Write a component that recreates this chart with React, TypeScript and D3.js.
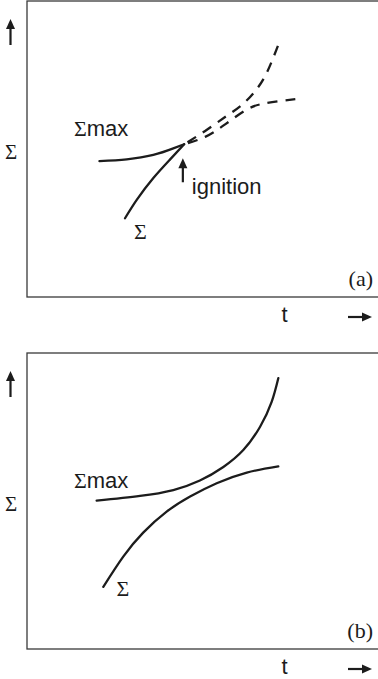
import React from 'react';
import * as d3 from 'd3';

type Pt = [number, number];

// values, arbitrary units (t: 0-100, Σ: 0-100)
// panel (a): before ignition solid, after ignition dashed
const sigmaMaxA: Pt[] = [[20.7, 45.9], [28.5, 46.5], [36.1, 48.0], [41.8, 50.2], [44.9, 51.6]];
const sigmaA: Pt[] = [[28.0, 26.6], [31.4, 32.9], [36.1, 40.2], [40.9, 46.5], [44.9, 51.6]];
const afterUpperA: Pt[] = [[44.9, 51.6], [50.9, 56.1], [56.6, 60.8], [61.4, 64.9], [65.4, 69.9], [68.6, 76.0], [72.0, 85.8]];
const afterLowerA: Pt[] = [[44.9, 51.6], [50.9, 54.1], [56.6, 58.3], [62.6, 63.2], [67.1, 65.2], [72.3, 66.2], [77.1, 66.9]];
const ignitionA: Pt = [44.9, 51.6];

// panel (b): curves never meet
const sigmaMaxB: Pt[] = [[19.9, 50.1], [32.3, 51.7], [41.8, 53.7], [49.4, 56.9], [56.1, 61.5], [61.8, 67.2], [66.6, 75.1], [69.9, 83.5], [71.8, 91.5]];
const sigmaB: Pt[] = [[21.8, 21.0], [27.5, 31.2], [33.2, 39.3], [39.9, 46.4], [46.6, 51.5], [54.2, 56.0], [62.8, 59.6], [71.8, 61.7]];

const panelTags = ['(a)', '(b)'];
const xTitle = 't';
const yTitle = 'Σ';
const ignitionText = 'ignition';

const W = 378;
const H = 679;
const boxLeft = 27;
const boxH = 296;
const ink = '#1c1c1c';
const sans = '"Liberation Sans", Arial, sans-serif';
const serif = '"Liberation Serif", "Times New Roman", serif';

const UpArrow = ({ x, tip, len }: { x: number; tip: number; len: number }) => (
  <g>
    <line x1={x} x2={x} y1={tip + 6} y2={tip + len} stroke={ink} strokeWidth={2.2} />
    <path d={`M${x},${tip} L${x - 4.5},${tip + 10} L${x + 4.5},${tip + 10} Z`} fill={ink} />
  </g>
);

const RightArrow = ({ x, y, len }: { x: number; y: number; len: number }) => (
  <g>
    <line x1={x} x2={x + len - 6} y1={y} y2={y} stroke={ink} strokeWidth={2.2} />
    <path d={`M${x + len},${y} L${x + len - 10},${y - 4.5} L${x + len - 10},${y + 4.5} Z`} fill={ink} />
  </g>
);

const Panel = ({ top, tag, solid, dashed, sigmaLabel, ignition }: {
  top: number;
  tag: string;
  solid: Pt[][];
  dashed: Pt[][];
  sigmaLabel: Pt;
  ignition?: Pt;
}) => {
  const x = d3.scaleLinear().domain([0, 100]).range([boxLeft, 377]);
  const y = d3.scaleLinear().domain([0, 100]).range([top + boxH, top]);
  const line = d3.line<Pt>()
    .x(d => x(d[0]))
    .y(d => y(d[1]))
    .curve(d3.curveNatural);

  return (
    <g>
      {/* frame runs off the right edge */}
      <rect x={boxLeft} y={top} width={W} height={boxH} fill="none" stroke="#3a3a3a" strokeWidth={1.3} />

      {solid.map((s, i) => (
        <path key={'s' + i} d={line(s) || ''} fill="none" stroke={ink} strokeWidth={2.3} strokeLinecap="round" />
      ))}
      {dashed.map((s, i) => (
        <path key={'d' + i} d={line(s) || ''} fill="none" stroke={ink} strokeWidth={2.3} strokeDasharray="10,8" strokeDashoffset={-4} />
      ))}

      <text x={x(13.4)} y={y(54.4)} fontSize={22} fill={ink} fontFamily={sans}>
        <tspan fontFamily={serif}>Σ</tspan>max
      </text>
      <text x={x(sigmaLabel[0])} y={y(sigmaLabel[1])} fontSize={22} fill={ink} fontFamily={serif}>Σ</text>

      {ignition && (
        <g>
          <UpArrow x={x(ignition[0]) - 1.3} tip={y(ignition[1]) + 14} len={24} />
          <text x={x(47.1)} y={y(34.8)} fontSize={22} fill={ink} fontFamily={sans}>{ignitionText}</text>
        </g>
      )}

      {/* axis decorations */}
      <UpArrow x={10.5} tip={top + 18} len={26} />
      <text x={11} y={top + 158} fontSize={21} fill={ink} fontFamily={serif} textAnchor="middle">{yTitle}</text>
      <text x={373} y={top + boxH - 11} fontSize={22} fill={ink} fontFamily={serif} textAnchor="end">{tag}</text>
      <text x={284.5} y={top + boxH + 25} fontSize={22} fill={ink} fontFamily={sans} textAnchor="middle">{xTitle}</text>
      <RightArrow x={348} y={top + boxH + 20} len={24} />
    </g>
  );
};

export default function App() {
  return (
    <svg width={W} height={H} style={{ position: 'absolute', left: 0, top: 0, background: '#fff' }}>
      <Panel
        top={1}
        tag={panelTags[0]}
        solid={[sigmaMaxA, sigmaA]}
        dashed={[afterUpperA, afterLowerA]}
        sigmaLabel={[30.6, 19.6]}
        ignition={ignitionA}
      />
      <Panel
        top={353}
        tag={panelTags[1]}
        solid={[sigmaMaxB, sigmaB]}
        dashed={[]}
        sigmaLabel={[25.6, 17.8]}
      />
    </svg>
  );
}
